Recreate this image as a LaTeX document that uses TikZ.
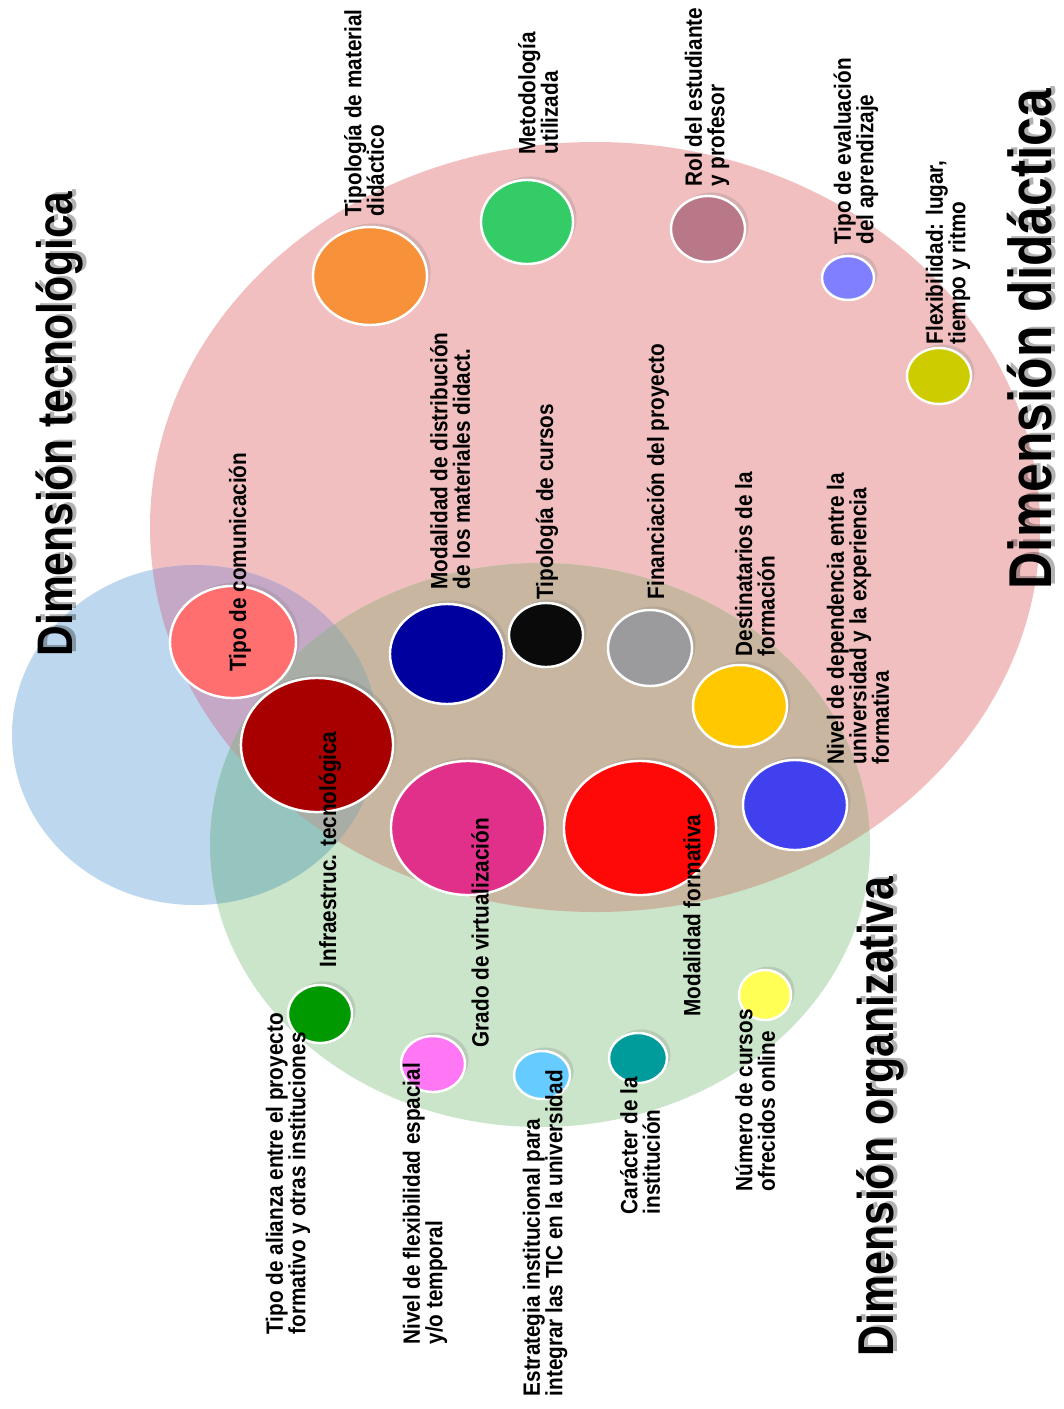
\documentclass[tikz,border=0pt]{standalone}
\usepackage{fontspec}
\setmainfont{Liberation Sans}
\newfontfamily\tagfont{Liberation Sans}[FakeStretch=0.88]
\newfontfamily\titlefont{Liberation Sans}[FakeStretch=0.85]
\usetikzlibrary{shapes.geometric,shadows}

\definecolor{didact}{RGB}{242,191,192}
\definecolor{tecno}{RGB}{189,215,238}
\definecolor{organ}{RGB}{202,229,202}
\definecolor{didorg}{RGB}{200,182,160}
\definecolor{didtec}{RGB}{197,168,198}
\definecolor{tecorg}{RGB}{150,197,191}
\definecolor{alltres}{RGB}{168,173,165}

\definecolor{ctcom}{RGB}{255,111,111}
\definecolor{cinfra}{RGB}{168,0,0}
\definecolor{cmdist}{RGB}{0,0,158}
\definecolor{ctcur}{RGB}{10,10,10}
\definecolor{cfin}{RGB}{155,155,158}
\definecolor{cdest}{RGB}{255,200,0}
\definecolor{cndep}{RGB}{64,64,238}
\definecolor{cgrado}{RGB}{224,48,138}
\definecolor{cmodf}{RGB}{255,8,8}
\definecolor{ctmat}{RGB}{247,146,58}
\definecolor{cmetod}{RGB}{51,204,102}
\definecolor{crol}{RGB}{184,120,136}
\definecolor{cteval}{RGB}{127,127,255}
\definecolor{cflex}{RGB}{204,204,0}
\definecolor{calian}{RGB}{0,153,0}
\definecolor{cnflex}{RGB}{255,119,245}
\definecolor{cestr}{RGB}{102,204,255}
\definecolor{ccarac}{RGB}{0,156,156}
\definecolor{cncur}{RGB}{255,255,85}

% the three dimensions
\newcommand{\didarea}{(595,527) ellipse [x radius=445, y radius=385]}
\newcommand{\tecarea}{(195,735) ellipse [x radius=183, y radius=170]}
\newcommand{\orgarea}{(540,845) ellipse [x radius=330, y radius=282]}

\begin{document}
\begin{tikzpicture}[x=0.01cm, y=-0.01cm,
    spot/.style={
        ellipse, draw=white, line width=0.7pt, inner sep=0pt,
        drop shadow={shadow xshift=1pt, shadow yshift=1pt, opacity=0.25}
    },
    tag/.style={
        rotate=90, anchor=west, align=left, inner sep=0pt,
        font=\tagfont\fontsize{6.7}{6.4}\selectfont\bfseries
    },
    dimtitle/.style={rotate=90, anchor=base west, inner sep=0pt},
    dimshadow/.style={dimtitle, text=black, text opacity=0.3},
]
    \fill[white] (0,0) rectangle (1063,1409);
    \useasboundingbox (0,0) rectangle (1063,1409);

    % regions and overlaps
    \fill[didact] \didarea;
    \fill[tecno] \tecarea;
    \fill[organ] \orgarea;
    \begin{scope}
        \clip \didarea;
        \fill[didorg] \orgarea;
        \fill[didtec] \tecarea;
    \end{scope}
    \begin{scope}
        \clip \orgarea;
        \fill[tecorg] \tecarea;
    \end{scope}
    \begin{scope}
        \clip \didarea;
        \clip \orgarea;
        \fill[alltres] \tecarea;
    \end{scope}

    % spots
    \node[spot, fill=ctcom, minimum width=1.26cm, minimum height=1.12cm] (tcom) at (233,642) {};
    \node[spot, fill=cinfra, minimum width=1.52cm, minimum height=1.34cm] (infra) at (317,745) {};
    \node[spot, fill=cmdist, minimum width=1.14cm, minimum height=1.0cm] (mdist) at (447,654) {};
    \node[spot, fill=ctcur, minimum width=0.74cm, minimum height=0.64cm] (tcur) at (546,635) {};
    \node[spot, fill=cfin, minimum width=0.84cm, minimum height=0.76cm] (fin) at (650,648) {};
    \node[spot, fill=cdest, minimum width=0.94cm, minimum height=0.82cm] (dest) at (740,706) {};
    \node[spot, fill=cndep, minimum width=1.04cm, minimum height=0.9cm] (ndep) at (795,805) {};
    \node[spot, fill=cgrado, minimum width=1.54cm, minimum height=1.34cm] (grado) at (468,828) {};
    \node[spot, fill=cmodf, minimum width=1.52cm, minimum height=1.34cm] (modf) at (640,828) {};
    \node[spot, fill=ctmat, minimum width=1.14cm, minimum height=0.98cm] (tmat) at (370,276) {};
    \node[spot, fill=cmetod, minimum width=0.92cm, minimum height=0.84cm] (metod) at (527,222) {};
    \node[spot, fill=crol, minimum width=0.74cm, minimum height=0.66cm] (rol) at (708,229) {};
    \node[spot, fill=cteval, minimum width=0.52cm, minimum height=0.44cm] (teval) at (848,278) {};
    \node[spot, fill=cflex, minimum width=0.64cm, minimum height=0.56cm] (flex) at (939,376) {};
    \node[spot, fill=calian, minimum width=0.64cm, minimum height=0.58cm] (alian) at (320,1014) {};
    \node[spot, fill=cnflex, minimum width=0.64cm, minimum height=0.56cm] (nflex) at (433,1064) {};
    \node[spot, fill=cestr, minimum width=0.56cm, minimum height=0.48cm] (estr) at (542,1075) {};
    \node[spot, fill=ccarac, minimum width=0.58cm, minimum height=0.5cm] (carac) at (638,1058) {};
    \node[spot, fill=cncur, minimum width=0.52cm, minimum height=0.5cm] (ncur) at (765,995) {};

    % labels
    \node[tag] (tcom-l) at (240,672) {Tipo de comunicación};
    \node[tag] (infra-l) at (330,968) {Infraestruc. tecnológica};
    \node[tag] (mdist-l) at (450,590) {Modalidad de distribución\\de los materiales didact.};
    \node[tag] (tcur-l) at (547,600) {Tipología de cursos};
    \node[tag] (fin-l) at (658,600) {Financiación del proyecto};
    \node[tag] (dest-l) at (755,657) {Destinatarios de la\\formación};
    \node[tag] (ndep-l) at (858,765) {Nivel de dependencia entre la\\universidad y la experiencia\\formativa};
    \node[tag] (grado-l) at (480,1048) {Grado de virtualización};
    \node[tag] (modf-l) at (692,1017) {Modalidad formativa};
    \node[tag] (tmat-l) at (364,217) {Tipología de material\\didáctico};
    \node[tag] (metod-l) at (538,155) {Metodología\\utilizada};
    \node[tag] (rol-l) at (707,187) {Rol del estudiante\\y profesor};
    \node[tag] (teval-l) at (856,245) {Tipo de evaluación\\del aprendizaje};
    \node[tag] (flex-l) at (948,345) {Flexibilidad: lugar,\\tiempo y ritmo};
    \node[tag] (alian-l) at (288,1335) {Tipo de alianza entre el proyecto\\formativo y otras instituciones};
    \node[tag] (nflex-l) at (425,1345) {Nivel de flexibilidad espacial\\y/o temporal};
    \node[tag] (estr-l) at (545,1397) {Estrategia institucional para\\integrar las TIC en la universidad};
    \node[tag] (carac-l) at (640,1215) {Carácter de la\\institución};
    \node[tag] (ncur-l) at (755,1192) {Número de cursos\\ofrecidos online};

    % dimension titles
    \node[dimshadow, font=\titlefont\fontsize{14.2}{15}\selectfont\bfseries] (tecno-s) at (76,655) {Dimensión tecnológica};
    \node[dimtitle, font=\titlefont\fontsize{14.2}{15}\selectfont\bfseries] (tecno-t) at (72,657) {Dimensión tecnológica};
    \node[dimshadow, font=\titlefont\fontsize{17.2}{18}\selectfont\bfseries] (didact-s) at (1055,588) {Dimensión didáctica};
    \node[dimtitle, font=\titlefont\fontsize{17.2}{18}\selectfont\bfseries] (didact-t) at (1051,590) {Dimensión didáctica};
    \node[dimshadow, font=\titlefont\fontsize{14.3}{15}\selectfont\bfseries] (organ-s) at (897,1355) {Dimensión organizativa};
    \node[dimtitle, font=\titlefont\fontsize{14.3}{15}\selectfont\bfseries] (organ-t) at (893,1357) {Dimensión organizativa};
\end{tikzpicture}
\end{document}
